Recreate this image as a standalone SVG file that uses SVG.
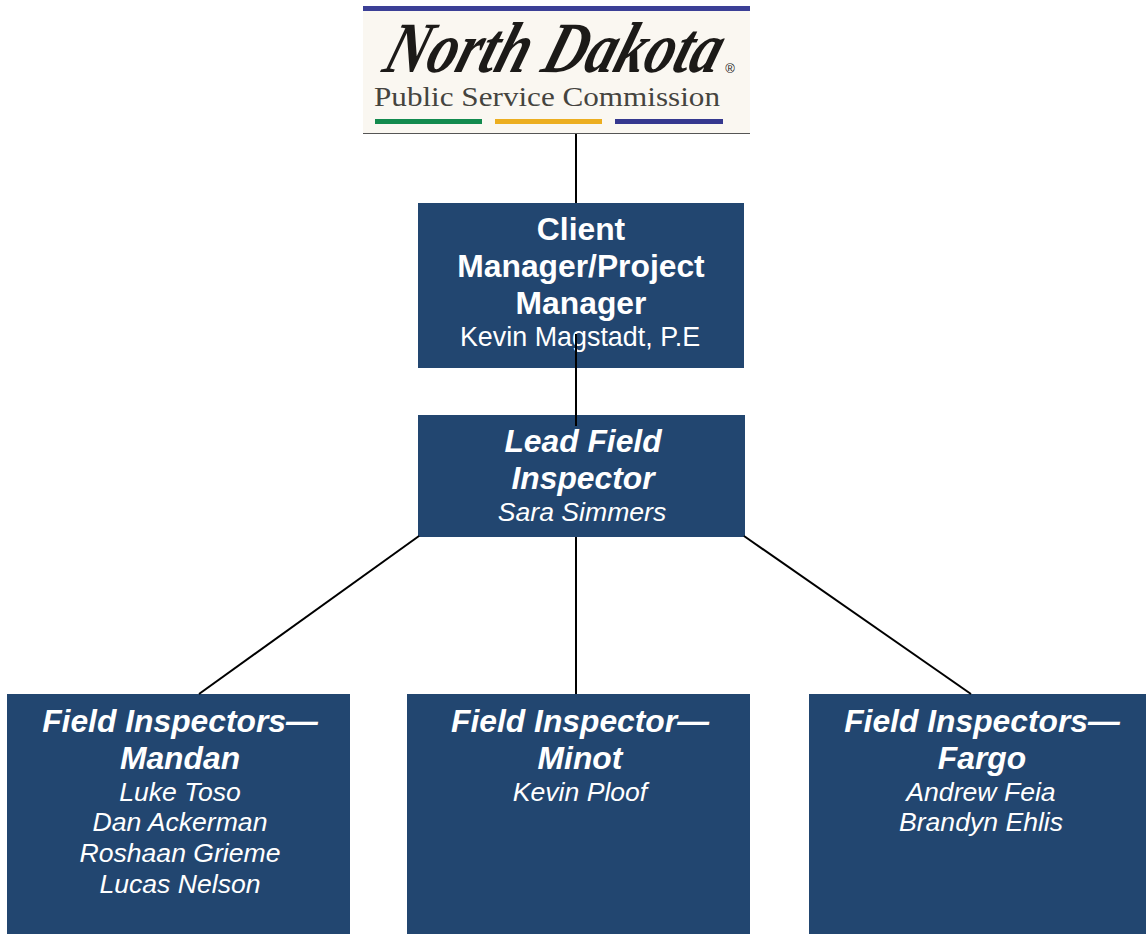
<svg xmlns="http://www.w3.org/2000/svg" width="1146" height="934" viewBox="0 0 1146 934">
<style>
.box{fill:#224670}
.t{font-family:"Liberation Sans",Arial,sans-serif;fill:#fff;text-anchor:middle}
.h{font-size:31.8px;font-weight:700}
.s{font-size:26.9px}
.si{font-size:26.6px}
.i{font-style:italic}
.c line{stroke:#000;stroke-width:2;fill:none}
</style>
<g id="logo">
<rect x="363" y="6" width="387" height="128" fill="#faf7f1"/>
<rect x="363" y="6" width="387" height="5" fill="#3b3f96"/>
<rect x="363" y="133" width="387" height="1" fill="#555"/>
<text x="0" y="0" font-family="'Liberation Serif',serif" font-style="italic" font-weight="700" font-size="72" fill="#1c1a18" text-anchor="middle" textLength="335" lengthAdjust="spacingAndGlyphs" transform="translate(548 72) skewX(-18)">North Dakota</text>
<text x="730" y="73" font-family="'Liberation Sans',sans-serif" font-size="13" fill="#222" text-anchor="middle">®</text>
<text x="547" y="106" font-family="'Liberation Serif',serif" font-size="27.5" fill="#45443f" text-anchor="middle" textLength="346" lengthAdjust="spacingAndGlyphs">Public Service Commission</text>
<rect x="375" y="119" width="107" height="5" fill="#138a4e"/>
<rect x="495" y="119" width="107" height="5" fill="#ecae20"/>
<rect x="615" y="119" width="108" height="5" fill="#35388f"/>
</g>
<g id="client-manager">
<rect class="box" x="418" y="203" width="326" height="165"/>
<text class="t h" x="581" y="240">Client</text>
<text class="t h" x="581" y="277">Manager/Project</text>
<text class="t h" x="581" y="314">Manager</text>
<text class="t s" x="580" y="346">Kevin Magstadt, P.E</text>
</g>
<g id="lead-inspector">
<rect class="box" x="418" y="415" width="327" height="122"/>
<text class="t h i" x="583" y="452">Lead Field</text>
<text class="t h i" x="583" y="489">Inspector</text>
<text class="t si i" x="582" y="521">Sara Simmers</text>
</g>
<g id="mandan">
<rect class="box" x="7" y="694" width="343" height="240"/>
<text class="t h i" x="180" y="732">Field Inspectors—</text>
<text class="t h i" x="180" y="769">Mandan</text>
<text class="t si i" x="180" y="801">Luke Toso</text>
<text class="t si i" x="180" y="831">Dan Ackerman</text>
<text class="t si i" x="180" y="862">Roshaan Grieme</text>
<text class="t si i" x="180" y="893">Lucas Nelson</text>
</g>
<g id="minot">
<rect class="box" x="407" y="694" width="343" height="240"/>
<text class="t h i" x="580" y="732">Field Inspector—</text>
<text class="t h i" x="580" y="769">Minot</text>
<text class="t si i" x="580" y="801">Kevin Ploof</text>
</g>
<g id="fargo">
<rect class="box" x="809" y="694" width="337" height="240"/>
<text class="t h i" x="982" y="732">Field Inspectors—</text>
<text class="t h i" x="982" y="769">Fargo</text>
<text class="t si i" x="981" y="801">Andrew Feia</text>
<text class="t si i" x="981" y="831">Brandyn Ehlis</text>
</g>
<g id="connectors" class="c">
<line x1="576" y1="134" x2="576" y2="203"/>
<line x1="576" y1="334" x2="576" y2="426"/>
<line x1="576" y1="537" x2="576" y2="694"/>
<line x1="419" y1="536" x2="199" y2="694"/>
<line x1="744" y1="536" x2="971" y2="694"/>
</g>
</svg>
